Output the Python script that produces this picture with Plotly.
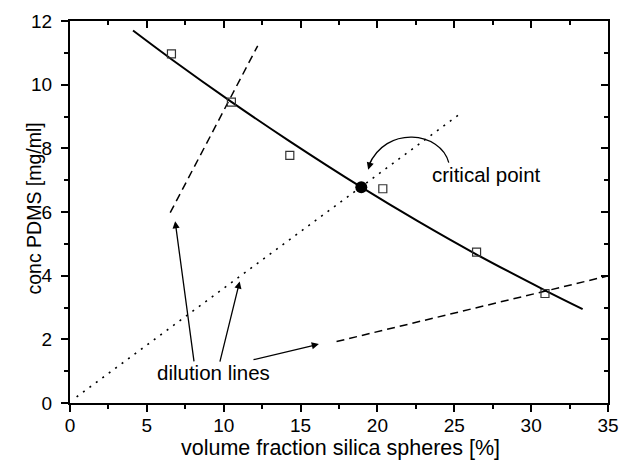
import plotly.graph_objects as go

# Measured data points (open squares)
data_x = [6.6, 10.5, 14.3, 20.35, 26.45, 30.9]
data_y = [10.97, 9.45, 7.78, 6.73, 4.74, 3.44]

# Critical point
crit_x = [18.95]
crit_y = [6.78]

# Coexistence curve (solid)
curve_x = [4.1, 6.6, 10.5, 14.3, 18.95, 22.6, 26.4, 30.9, 33.35]
curve_y = [11.7, 10.80, 9.46, 8.22, 6.78, 5.72, 4.68, 3.54, 2.95]

# Dilution lines
dil1_x = [6.52, 12.21]
dil1_y = [5.98, 11.22]
dil2_x = [0.43, 25.25]
dil2_y = [0.19, 9.04]
dil3_x = [17.34, 34.9]
dil3_y = [1.93, 3.98]

# Text labels
x_title = "volume fraction silica spheres [%]"
y_title = "conc PDMS [mg/ml]"
label_dil = {"text": "dilution lines", "x": 9.35, "y": 0.95}
label_crit = {"text": "critical point", "x": 27.1, "y": 7.18}

# Annotation arrows (tail -> tip)
arrows_tail_x = [8.08, 9.73, 11.84]
arrows_tail_y = [1.26, 1.25, 1.35]
arrows_tip_x = [6.84, 11.04, 16.19]
arrows_tip_y = [5.71, 3.82, 1.85]
# curved arrow to the critical point (cubic bezier in data coords)
arc_pts_x = [24.64, 24.12, 20.53, 19.43]
arc_pts_y = [7.55, 8.53, 8.74, 7.45]

FONT = "Liberation Sans, Arial, Helvetica, sans-serif"

fig = go.Figure()
fig.add_trace(go.Scatter(x=curve_x, y=curve_y, mode="lines",
                         line=dict(color="black", width=2, shape="spline", smoothing=1),
                         hoverinfo="skip", showlegend=False))
fig.add_trace(go.Scatter(x=dil1_x, y=dil1_y, mode="lines",
                         line=dict(color="black", width=1.5, dash="8px,5px"),
                         showlegend=False))
fig.add_trace(go.Scatter(x=dil2_x, y=dil2_y, mode="lines",
                         line=dict(color="black", width=1.6, dash="2px,6px"),
                         showlegend=False))
fig.add_trace(go.Scatter(x=dil3_x, y=dil3_y, mode="lines",
                         line=dict(color="black", width=1.5, dash="8px,5px"),
                         showlegend=False))
fig.add_trace(go.Scatter(x=data_x, y=data_y, mode="markers",
                         marker=dict(symbol="square-open", size=8, color="#333",
                                     line=dict(width=1.2)),
                         showlegend=False))
fig.add_trace(go.Scatter(x=crit_x, y=crit_y, mode="markers",
                         marker=dict(symbol="circle", size=12, color="black"),
                         showlegend=False))
# invisible trace for mirrored (inside-tick) axes
fig.add_trace(go.Scatter(x=crit_x, y=crit_y, mode="markers", xaxis="x2", yaxis="y2",
                         marker=dict(opacity=0), hoverinfo="skip", showlegend=False))

annotations = []
for tx, ty, hx, hy in zip(arrows_tail_x, arrows_tail_y, arrows_tip_x, arrows_tip_y):
    annotations.append(dict(x=hx, y=hy, ax=tx, ay=ty, xref="x", yref="y",
                            axref="x", ayref="y", text="", showarrow=True,
                            arrowhead=2, arrowsize=1.1, arrowwidth=1.3,
                            arrowcolor="black"))
annotations.append(dict(x=label_dil["x"], y=label_dil["y"], text=label_dil["text"],
                        showarrow=False, font=dict(size=20.5, color="black", family=FONT)))
annotations.append(dict(x=label_crit["x"], y=label_crit["y"], text=label_crit["text"],
                        showarrow=False, font=dict(size=20.5, color="black", family=FONT)))
# arrowhead at end of curved arrow
annotations.append(dict(x=arc_pts_x[3] - 0.03, y=arc_pts_y[3] - 0.12, ax=3, ay=-10,
                        xref="x", yref="y", text="", showarrow=True, arrowhead=2,
                        arrowsize=1.1, arrowwidth=1.3, arrowcolor="black"))
# axis titles
annotations.append(dict(text=x_title, xref="paper", yref="paper", x=0.5037, y=-0.119,
                        xanchor="center", yanchor="middle", showarrow=False,
                        font=dict(size=21.5, color="black", family=FONT)))
annotations.append(dict(text=y_title, xref="paper", yref="paper", x=-0.067, y=0.509,
                        xanchor="center", yanchor="middle", showarrow=False, textangle=-90,
                        font=dict(size=19.5, color="black", family=FONT)))

arc_path = "M {},{} C {},{} {},{} {},{}".format(
    arc_pts_x[0], arc_pts_y[0], arc_pts_x[1], arc_pts_y[1],
    arc_pts_x[2], arc_pts_y[2], arc_pts_x[3], arc_pts_y[3])
shapes = [dict(type="path", xref="x", yref="y", path=arc_path,
               line=dict(color="black", width=1.3))]

axis_common = dict(showgrid=False, zeroline=False, showline=True, linecolor="black",
                   linewidth=2, tickcolor="black", tickwidth=1.5, ticklen=7,
                   tickfont=dict(size=19, family=FONT, color="black"))

fig.update_layout(
    width=643, height=460,
    margin=dict(l=70, r=35, t=11, b=57),
    plot_bgcolor="white", paper_bgcolor="white",
    showlegend=False,
    annotations=annotations,
    shapes=shapes,
    xaxis=dict(range=[0, 35], dtick=5, tick0=0, ticks="outside", ticklabelstandoff=-3,
               minor=dict(dtick=2.5, ticks="outside", ticklen=4, tickcolor="black", tickwidth=1.5),
               **axis_common),
    yaxis=dict(range=[0, 12], dtick=2, tick0=0, ticks="outside", ticklabelstandoff=5,
               minor=dict(dtick=1, ticks="outside", ticklen=4, tickcolor="black", tickwidth=1.5),
               **axis_common),
    xaxis2=dict(range=[0, 35], dtick=5, tick0=0, ticks="inside", overlaying="x",
                side="top", showticklabels=False, anchor="y2",
                minor=dict(dtick=2.5, ticks="inside", ticklen=4, tickcolor="black", tickwidth=1.5),
                **axis_common),
    yaxis2=dict(range=[0, 12], dtick=2, tick0=0, ticks="inside", overlaying="y",
                side="right", showticklabels=False, anchor="x2",
                minor=dict(dtick=1, ticks="inside", ticklen=4, tickcolor="black", tickwidth=1.5),
                **axis_common),
)

fig.write_html("out.html")
